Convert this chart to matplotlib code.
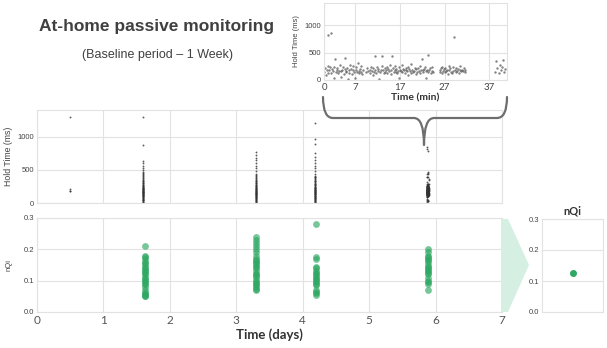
import matplotlib.pyplot as plt
from matplotlib.path import Path
from matplotlib.patches import PathPatch, Polygon

# ---- data ----
# sessions (days) and the hold times typed in them (ms)
day05_hold = [1290, 215, 185, 175]
day16_hold = [15, 22, 30, 38, 45, 52, 60, 66, 72, 80, 85, 92, 98, 104, 110, 115, 120,
              126, 130, 135, 140, 145, 150, 155, 160, 164, 168, 172, 176, 180, 185, 190,
              195, 200, 205, 210, 215, 220, 226, 232, 238, 245, 252, 260, 268, 276, 285,
              295, 305, 315, 325, 338, 350, 365, 380, 395, 410, 425, 440, 455, 470, 500,
              530, 560, 600, 625, 870, 1290]
day33_hold = [12, 20, 28, 36, 44, 50, 58, 64, 70, 78, 84, 90, 96, 102, 108, 114, 120,
              125, 130, 136, 142, 148, 153, 158, 163, 168, 173, 178, 183, 188, 193, 198,
              204, 210, 216, 222, 228, 235, 242, 250, 258, 266, 275, 284, 294, 304, 315,
              326, 338, 350, 362, 375, 388, 400, 415, 430, 480, 520, 560, 600, 640, 680,
              720, 770]
day42_hold = [10, 18, 26, 34, 42, 48, 56, 62, 68, 76, 82, 88, 94, 100, 106, 112, 118,
              124, 129, 134, 140, 146, 151, 156, 161, 166, 171, 176, 181, 186, 191, 196,
              202, 208, 214, 220, 226, 233, 240, 248, 256, 264, 273, 282, 292, 302, 313,
              324, 336, 348, 360, 373, 386, 398, 412, 440, 480, 520, 560, 600, 640, 690,
              750, 895, 970, 1210]
day_sessions = [0.5, 1.6, 3.3, 4.18]
session_start = 5.87  # day of the zoomed session

# zoomed session (minutes, ms)
session_min = [
    0.1, 0.3, 0.5, 0.6, 0.8, 0.9,
    1.0, 1.1, 1.3, 1.5, 1.6, 1.8,
    2.0, 2.2, 2.3, 2.5, 2.7, 2.9,
    3.0, 3.2, 3.4, 3.5, 3.7, 3.9,
    4.1, 4.2, 4.4, 4.6, 4.7, 4.9,
    5.0, 5.2, 5.4, 5.5, 5.7, 5.9,
    6.1, 6.3, 6.4, 6.6, 6.8, 6.9,
    7.1, 7.2, 7.4, 7.6, 7.8, 7.9,
    8.1, 8.3, 8.4, 8.6, 8.8,
    9.3, 9.6, 9.9,
    10.2, 10.4, 10.5, 10.7, 10.9,
    11.0, 11.2, 11.4, 11.5, 11.7, 11.9,
    12.1, 12.2, 12.4, 12.6, 12.8, 12.9,
    13.0, 13.2, 13.4, 13.6, 13.7, 13.9,
    14.1, 14.2, 14.4, 14.6, 14.8, 14.9,
    15.1, 15.3, 15.4, 15.6, 15.8, 15.9,
    16.1, 16.2, 16.4, 16.6, 16.7, 16.9,
    17.0, 17.2, 17.4, 17.5, 17.7, 17.9,
    18.1, 18.3, 18.4, 18.6, 18.8, 18.9,
    19.1, 19.2, 19.4, 19.6, 19.8, 19.9,
    20.1, 20.3, 20.5, 20.6, 20.8,
    21.0, 21.2, 21.4, 21.5, 21.7, 21.9,
    22.1, 22.2, 22.4, 22.6, 22.8, 22.9,
    23.0, 23.2, 23.4, 23.6, 23.7, 23.9,
    24.1, 24.3, 24.5,
    25.9, 26.0, 26.2, 26.4, 26.5, 26.7, 26.9,
    27.0, 27.2, 27.4, 27.6, 27.7, 27.9,
    28.1, 28.3, 28.4, 28.6, 28.8, 28.9,
    29.1, 29.3, 29.5, 29.6, 29.8,
    30.0, 30.2, 30.4, 30.5, 30.7, 30.9,
    31.1, 31.3, 31.5, 31.7,
    38.2, 38.5, 38.8, 39.1, 39.4, 39.7, 39.9, 40.2, 40.4, 40.6,
]
session_hold = [
    150, 210, 95, 180, 260, 130,
    820, 175, 240, 850, 120, 200,
    165, 35, 230, 385, 145, 190,
    210, 125, 170, 280, 60, 155,
    185, 240, 110, 205, 395, 140,
    160, 225, 20, 190, 135, 270,
    200, 115, 175, 250, 150, 40,
    180, 230, 140, 310, 165, 120,
    195, 150, 260, 105, 175,
    140, 220, 170,
    185, 130, 245, 160, 90,
    210, 150, 180, 430, 125, 235,
    165, 200, 25, 145, 190, 260,
    440, 175, 120, 215, 150, 185,
    230, 135, 195, 160, 280, 110,
    175, 445, 215, 140, 190, 255,
    150, 200, 125, 170, 235, 30,
    190, 160, 270, 140, 205, 175,
    125, 215, 180, 155, 240, 100,
    200, 165, 135, 290, 185, 150,
    170, 225, 115, 195, 145,
    210, 160, 250, 130, 185, 390,
    175, 140, 205, 235, 45, 165,
    190, 150, 460, 180, 215, 125,
    160, 230, 140,
    185, 150, 210, 120, 245, 170, 195,
    140, 225, 165, 190, 105, 255,
    175, 210, 150, 130, 235, 160,
    780, 185, 145, 220, 170,
    200, 130, 175, 250, 155, 190,
    165, 210, 140, 185,
    150, 340, 210, 120, 280, 175, 230, 360, 140, 195,
]

# nQi per window
nqi_days = [1.62, 3.3, 4.2, 5.89]
nqi_16 = [0.21, 0.18, 0.17, 0.16, 0.15, 0.14, 0.14, 0.13, 0.12, 0.12, 0.11, 0.10, 0.09,
          0.08, 0.07, 0.06, 0.055, 0.05, 0.05, 0.06, 0.13, 0.155, 0.175, 0.11, 0.10, 0.09]
nqi_33 = [0.24, 0.23, 0.22, 0.21, 0.20, 0.19, 0.17, 0.165, 0.16, 0.15, 0.145, 0.14, 0.13,
          0.12, 0.115, 0.11, 0.10, 0.095, 0.09, 0.085, 0.08, 0.075, 0.07, 0.12, 0.155, 0.18]
nqi_42 = [0.28, 0.175, 0.17, 0.145, 0.14, 0.13, 0.125, 0.12, 0.11, 0.105, 0.10, 0.095,
          0.09, 0.085, 0.07, 0.065, 0.06, 0.055, 0.115]
nqi_59 = [0.20, 0.19, 0.18, 0.175, 0.17, 0.16, 0.15, 0.14, 0.135, 0.13, 0.125, 0.12, 0.11,
          0.10, 0.095, 0.09, 0.07, 0.165, 0.145]
nqi_median = 0.125
nqi_err = 0.009

W, H = 607, 348
GREEN = '#2ea862'
GRID = '#e2e2e2'
TXT = '#444444'
ARIAL = 'Liberation Sans'

fig = plt.figure(figsize=(W / 100, H / 100), dpi=100)


def box(x0, y0, x1, y1):
    return [x0 / W, 1 - y1 / H, (x1 - x0) / W, (y1 - y0) / H]


def pt(x, y):
    return (x / W, 1 - y / H)


def style(ax):
    ax.set_facecolor('white')
    ax.grid(True, color=GRID, lw=0.8)
    ax.set_axisbelow(True)
    for s in ax.spines.values():
        s.set_color(GRID)
        s.set_linewidth(0.8)
    ax.tick_params(length=0, colors=TXT, labelsize=5.5, pad=2)
    for lab in ax.get_yticklabels():
        lab.set_family(ARIAL)


# ---- hold time per day ----
ax1 = fig.add_axes(box(37, 110, 502, 203))
for d, vals in zip(day_sessions, [day05_hold, day16_hold, day33_hold, day42_hold]):
    ax1.scatter([d] * len(vals), vals, s=1.8, color='#333333', lw=0, alpha=0.8)
ax1.scatter([session_start + m / 1440 for m in session_min], session_hold, s=1.8,
            color='#333333', lw=0, alpha=0.8)
ax1.set_xlim(0, 7)
ax1.set_ylim(0, 1400)
ax1.set_xticks(range(8))
ax1.set_xticklabels([])
ax1.set_yticks([0, 500, 1000])
style(ax1)
ax1.set_ylabel('Hold Time (ms)', fontsize=6.3, family=ARIAL, color=TXT, labelpad=3)

# ---- nQi per day ----
ax2 = fig.add_axes(box(37, 218, 502, 312))
for d, vals in zip(nqi_days, [nqi_16, nqi_33, nqi_42, nqi_59]):
    ax2.scatter([d] * len(vals), vals, s=24, color=GREEN, lw=0, alpha=0.65)
ax2.set_xlim(0, 7)
ax2.set_ylim(0, 0.3)
ax2.set_xticks(range(8))
ax2.set_yticks([0, 0.1, 0.2, 0.3])
ax2.set_yticklabels(['0.0', '0.1', '0.2', '0.3'])
style(ax2)
for lab in ax2.get_xticklabels():
    lab.set_family('Lato')
    lab.set_fontsize(8.5)
    lab.set_color('#555555')
ax2.set_ylabel('nQi', fontsize=5.5, family=ARIAL, color=TXT, labelpad=8)
ax2.set_xlabel('Time (days)', fontsize=9.5, family='Lato', fontweight='bold',
               color='#333333', labelpad=2)

# ---- zoomed session ----
ax3 = fig.add_axes(box(324, 3, 507, 80))
ax3.scatter(session_min, session_hold, s=3, color='#505050', lw=0, alpha=0.7)
ax3.set_xlim(0, 41)
ax3.set_ylim(0, 1400)
ax3.set_xticks([0, 7, 17, 27, 37])
ax3.set_yticks([0, 500, 1000])
style(ax3)
for lab in ax3.get_xticklabels():
    lab.set_family('Lato')
    lab.set_fontsize(7)
ax3.set_ylabel('Hold Time (ms)', fontsize=5.5, family=ARIAL, color=TXT, labelpad=3)
ax3.set_xlabel('Time (min)', fontsize=7.5, family='Lato', fontweight='bold',
               color='#333333', labelpad=1)

# ---- overall nQi ----
ax4 = fig.add_axes(box(542, 219, 603, 312))
ax4.errorbar([0], [nqi_median], yerr=[nqi_err], fmt='o', ms=4, color=GREEN, lw=1)
ax4.set_xlim(-1, 1)
ax4.set_ylim(0, 0.3)
ax4.set_xticks([])
ax4.set_yticks([0, 0.1, 0.2, 0.3])
ax4.set_yticklabels(['0.0', '0.1', '0.2', '0.3'])
style(ax4)
ax4.grid(False, axis='x')
ax4.set_title('nQi', fontsize=8, family='Lato', fontweight='bold', color='#333333', pad=3)

# ---- brace and chevron ----
verts = [pt(323, 97), pt(323, 118), pt(333, 118), pt(414, 118), pt(424, 118),
         pt(424, 145), pt(424, 118), pt(434, 118), pt(497, 118), pt(507, 118),
         pt(507, 97)]
codes = [Path.MOVETO, Path.CURVE3, Path.CURVE3, Path.LINETO, Path.CURVE3, Path.CURVE3,
         Path.CURVE3, Path.CURVE3, Path.LINETO, Path.CURVE3, Path.CURVE3]
fig.patches.append(PathPatch(Path(verts, codes), transform=fig.transFigure, fill=False,
                             ec='#6e6e6e', lw=1.6, capstyle='round', joinstyle='round'))
fig.patches.append(Polygon([pt(501, 219), pt(508, 219), pt(529, 265), pt(508, 312),
                            pt(501, 312)], closed=True, transform=fig.transFigure,
                           fc='#d6efe3', ec='none'))

fig.text(157 / W, 1 - 26 / H, 'At-home passive monitoring', ha='center', va='center',
         fontsize=12.5, fontweight='bold', family=ARIAL, color='#404040')
fig.text(157 / W, 1 - 55 / H, '(Baseline period \u2013 1 Week)', ha='center', va='center',
         fontsize=9, family=ARIAL, color='#404040')

fig.savefig('out.png', dpi=100)
